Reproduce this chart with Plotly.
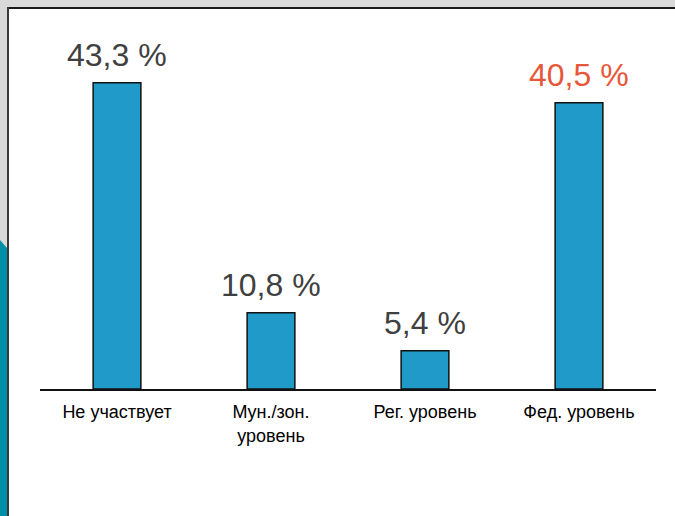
import plotly.graph_objects as go

categories = ["Не участвует", "Мун./зон.<br>уровень", "Рег. уровень", "Фед. уровень"]
values = [43.3, 10.8, 5.4, 40.5]
value_labels = ["43,3 %", "10,8 %", "5,4 %", "40,5 %"]
label_colors = ["#404040", "#404040", "#404040", "#E8563A"]

W, H = 675, 516

def px(x):
    return x / W

def py(y):
    return (H - y) / H

fig = go.Figure()
fig.add_trace(go.Bar(
    x=categories, y=values,
    marker=dict(color="#209BC9", line=dict(color="#111111", width=1.5)),
    width=0.31,
    hoverinfo="skip",
))

annotations = []
for c, v, t, col in zip(categories, values, value_labels, label_colors):
    annotations.append(dict(
        x=c, y=v, text=t, showarrow=False, xref="x", yref="y",
        yanchor="bottom", yshift=8,
        font=dict(family="Liberation Sans, Arial, sans-serif", size=32, color=col),
    ))

shapes = [
    dict(type="rect", xref="paper", yref="paper", x0=px(8), x1=px(W), y0=py(H), y1=py(8),
         fillcolor="white", line=dict(width=0), layer="below"),
    dict(type="line", xref="paper", yref="paper", x0=px(7), x1=px(W), y0=py(8), y1=py(8),
         line=dict(color="#1a1a1a", width=2), layer="below"),
    dict(type="line", xref="paper", yref="paper", x0=px(8), x1=px(8), y0=py(7), y1=py(H),
         line=dict(color="#3a3a3a", width=2), layer="below"),
    dict(type="path", xref="paper", yref="paper",
         path=f"M 0,{py(240)} L {px(7)},{py(248)} L {px(7)},{py(H)} L 0,{py(H)} Z",
         fillcolor="#0090A8", line=dict(width=0), layer="below"),
]

fig.update_layout(
    width=W, height=H,
    margin=dict(l=0, r=0, t=0, b=0),
    paper_bgcolor="#D9D9D9",
    plot_bgcolor="rgba(0,0,0,0)",
    showlegend=False,
    annotations=annotations,
    shapes=shapes,
    xaxis=dict(
        domain=[px(40), px(656)],
        showline=True, linecolor="#111111", linewidth=1.5,
        showgrid=False, zeroline=False, ticks="",
        ticklabelstandoff=6,
        tickfont=dict(family="Liberation Sans, Arial, sans-serif", size=18, color="#000000"),
        fixedrange=True,
    ),
    yaxis=dict(
        domain=[py(389), py(8)],
        range=[0, 381 / 7.07],
        visible=False, fixedrange=True,
    ),
)

fig.write_html("out.html", config={"displayModeBar": False},
               post_script="document.body.style.margin='0';document.body.style.padding='0';")
